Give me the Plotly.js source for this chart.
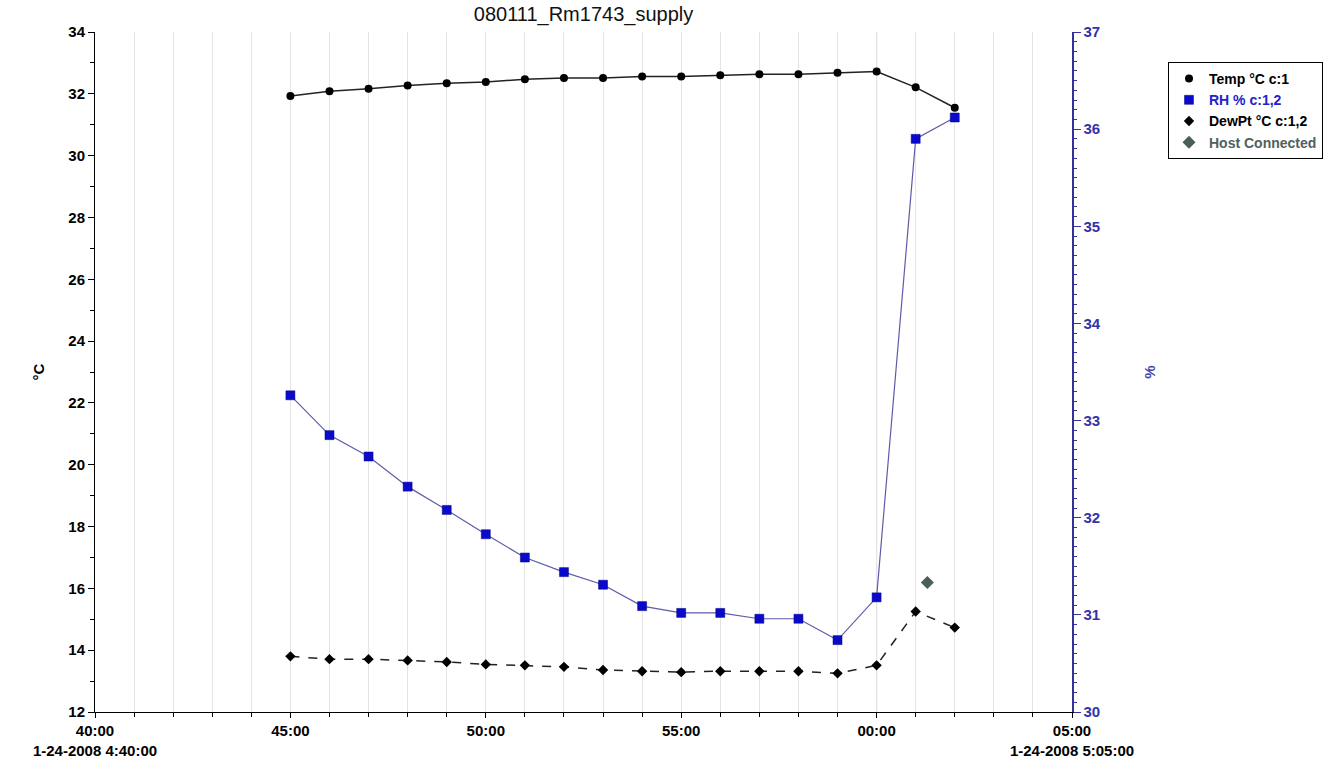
<!DOCTYPE html>
<html>
<head>
<meta charset="utf-8">
<script src="https://cdn.plot.ly/plotly-3.0.1.min.js"></script>
<style>html,body{margin:0;padding:0;background:#fff;}#chart{width:1334px;height:760px;}</style>
</head>
<body>
<div id="chart"></div>
<script>
// ---- data ----
const times = [
  '2008-01-24 04:45:00','2008-01-24 04:46:00','2008-01-24 04:47:00','2008-01-24 04:48:00',
  '2008-01-24 04:49:00','2008-01-24 04:50:00','2008-01-24 04:51:00','2008-01-24 04:52:00',
  '2008-01-24 04:53:00','2008-01-24 04:54:00','2008-01-24 04:55:00','2008-01-24 04:56:00',
  '2008-01-24 04:57:00','2008-01-24 04:58:00','2008-01-24 04:59:00','2008-01-24 05:00:00',
  '2008-01-24 05:01:00','2008-01-24 05:02:00'
];
const tempC = [31.93,32.08,32.16,32.27,32.34,32.38,32.47,32.51,32.51,32.56,32.56,32.60,32.63,32.63,32.68,32.72,32.21,31.55];
const rhPct = [33.26,32.85,32.63,32.32,32.08,31.83,31.59,31.44,31.31,31.09,31.02,31.02,30.96,30.96,30.74,31.18,35.90,36.12];
const dewPtC = [13.80,13.71,13.71,13.67,13.62,13.54,13.51,13.46,13.36,13.32,13.29,13.32,13.32,13.32,13.25,13.51,15.25,14.73];
const hostTimes = ['2008-01-24 05:01:18'];
const hostVals = [16.19];

const xTickVals = ['2008-01-24 04:40:00','2008-01-24 04:45:00','2008-01-24 04:50:00','2008-01-24 04:55:00','2008-01-24 05:00:00','2008-01-24 05:05:00'];
const xTickText = ['40:00<br>1-24-2008 4:40:00','45:00','50:00','55:00','00:00','05:00<br>1-24-2008 5:05:00'];
const xRange = ['2008-01-24 04:40:00','2008-01-24 05:05:00'];
const hourMark = '2008-01-24 05:00:00';

const seriesNames = ['Temp °C c:1','RH % c:1,2','DewPt °C c:1,2','Host Connected'];

// ---- styles ----
const FONT = 'Liberation Sans, Arial, sans-serif';
const BLUE = '#0a0acc';
const NAVY = '#333399';
const FS = 15;

const traces = [
  {x: times, y: tempC, mode:'lines', line:{color:'#222', width:1.5}, showlegend:false, hoverinfo:'skip'},
  {x: times, y: rhPct, yaxis:'y2', mode:'lines', line:{color:'#5c5ca8', width:1.2}, showlegend:false, hoverinfo:'skip'},
  {x: times, y: dewPtC, mode:'lines', line:{color:'#222', width:1.5, dash:'dash'}, showlegend:false, hoverinfo:'skip'},
  {x: times, y: tempC, mode:'markers', name: seriesNames[0],
   marker:{symbol:'circle', size:8, color:'#000'}},
  {x: times, y: rhPct, yaxis:'y2', mode:'markers', name:'<span style="color:#2222cc">'+seriesNames[1]+'</span>',
   marker:{symbol:'square', size:9, color:BLUE, line:{color:'#000080', width:0.5}}},
  {x: times, y: dewPtC, mode:'markers', name: seriesNames[2],
   marker:{symbol:'diamond', size:8, color:'#000'}},
  {x: hostTimes, y: hostVals, mode:'markers', name:'<span style="color:#506060">'+seriesNames[3]+'</span>',
   marker:{symbol:'diamond', size:10, color:'#4a5e5a'}}
];

const layout = {
  width:1334, height:760,
  margin:{l:95, r:262, t:32, b:48, autoexpand:false},
  paper_bgcolor:'#fff', plot_bgcolor:'#fff',
  font:{family:FONT, size:FS, color:'#000'},
  title:{text:'080111_Rm1743_supply', font:{family:FONT, size:20, color:'#111'},
         x:0.5, xref:'paper', xanchor:'center', y:1-14/760, yref:'container', yanchor:'middle'},
  showlegend:true,
  legend:{xref:'container', yref:'container', x:1168/1334, xanchor:'left', y:1-62/760, yanchor:'top',
          bordercolor:'#000', borderwidth:1,
          bgcolor:'#fff', font:{family:FONT, size:14, weight:700, color:'#000'},
          tracegroupgap:0, itemwidth:30},
  xaxis:{type:'date', range:xRange, tickvals:xTickVals, ticktext:xTickText,
         tickfont:{family:FONT, size:FS, weight:700, color:'#000'}, ticks:'outside', ticklen:5, tickcolor:'#000',
         showline:true, linecolor:'#000', linewidth:1, zeroline:false,
         showgrid:true, gridcolor:'#e4e4e4', gridwidth:1,
         minor:{dtick:60000, ticks:'outside', ticklen:4, tickcolor:'#000', showgrid:true, gridcolor:'#e4e4e4'},
         fixedrange:true},
  yaxis:{range:[12,34], dtick:2, tick0:12, ticks:'outside', ticklen:6, tickcolor:'#000',
         tickfont:{family:FONT, size:FS, weight:700, color:'#000'}, showline:true, linecolor:'#000', linewidth:1,
         showgrid:false, zeroline:false,
         minor:{dtick:1, ticks:'outside', ticklen:4, tickcolor:'#000'},
         title:{text:'°C', font:{family:FONT, size:FS, weight:700}, standoff:20}},
  yaxis2:{range:[30,37], dtick:1, tick0:30, overlaying:'y', side:'right', anchor:'x',
          ticks:'outside', ticklen:7, tickcolor:NAVY,
          tickfont:{family:FONT, size:FS, weight:700, color:'#3333aa'}, showline:true, linecolor:NAVY, linewidth:1.5,
          showgrid:false, zeroline:false,
          minor:{dtick:0.1, ticks:'outside', ticklen:3, tickcolor:NAVY},
          title:{text:'%', font:{family:FONT, size:FS, weight:700, color:'#4444aa'}, standoff:44}},
  shapes:[{type:'line', xref:'x', yref:'paper', x0:hourMark, x1:hourMark, y0:0, y1:1,
           line:{color:'#a8a8a8', width:1}, layer:'below'}]
};

Plotly.newPlot('chart', traces, layout, {staticPlot:true});
</script>
</body>
</html>
